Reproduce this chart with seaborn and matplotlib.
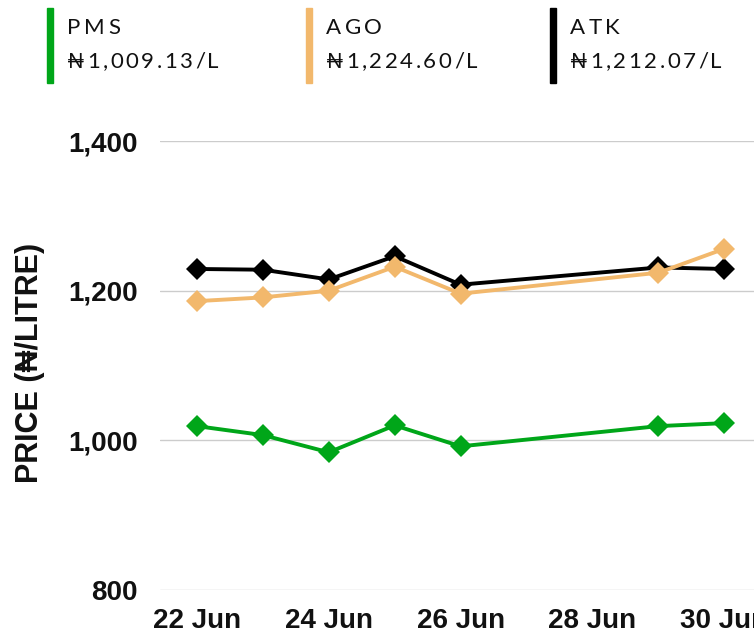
import numpy as np
import pandas as pd
import matplotlib
matplotlib.use("Agg")
import matplotlib.pyplot as plt
import seaborn as sns
from matplotlib.patches import Rectangle

sns.set_theme(style="white")
plt.rcParams['font.family'] = ['Liberation Sans', 'DejaVu Sans']

# data (June days)
days = [22, 23, 24, 25, 26, 29, 30]
pms = [1019, 1007, 984, 1020, 992, 1019, 1023]
atk = [1229, 1228, 1215, 1246, 1208, 1231, 1229]
ago = [1186, 1191, 1200, 1232, 1196, 1224, 1256]

products = ["PMS", "ATK", "AGO"]
colors = {"PMS": "#00a619", "ATK": "#000000", "AGO": "#f2b86c"}
latest = {"PMS": "₦1,009.13/L", "AGO": "₦1,224.60/L", "ATK": "₦1,212.07/L"}

tick_days = [22, 24, 26, 28, 30]
tick_labels = ["22 Jun", "24 Jun", "26 Jun", "28 Jun", "30 Jun"]
y_ticks = [800, 1000, 1200, 1400]

W, H = 754, 639

df = pd.DataFrame({
    "day": days * 3,
    "price": pms + atk + ago,
    "product": ["PMS"] * len(days) + ["ATK"] * len(days) + ["AGO"] * len(days),
})

fig = plt.figure(figsize=(W / 100, H / 100), dpi=100)
ax = fig.add_axes([160 / W, 49 / H, 1 - 160 / W, 449 / H])

sns.lineplot(data=df, x="day", y="price", hue="product", hue_order=products,
             palette=colors, marker="D", markersize=11, markeredgewidth=0,
             linewidth=2.8, legend=False, ax=ax, clip_on=False)

ax.set_xlim(21.44, 30.45)
ax.set_ylim(800, 1400)
ax.set_yticks(y_ticks)
ax.set_yticklabels([f"{v:,}" for v in y_ticks], fontsize=20, fontweight="bold", color="#111111")
ax.set_xticks(tick_days)
ax.set_xticklabels(tick_labels, fontsize=20, fontweight="bold", color="#111111")
ax.tick_params(axis="y", length=0, pad=16)
ax.tick_params(axis="x", length=0, pad=13)
ax.yaxis.grid(True, color="#cccccc", linewidth=1)
ax.set_axisbelow(True)
for s in ax.spines.values():
    s.set_visible(False)
ax.set_xlabel("")
ax.set_ylabel("")
fig.text(30 / W, 1 - 363 / H, "PRICE (₦/LITRE)", rotation=90, fontsize=22,
         fontweight="bold", ha="center", va="center", color="#111111",
         family=['Liberation Sans', 'DejaVu Sans'])

# legend strip at the top, letter-spaced labels
renderer = fig.canvas.get_renderer()


def spaced_text(x_px, y_px, s, gap_px, **kw):
    x = x_px
    for ch in s:
        t = fig.text(x / W, 1 - y_px / H, ch, ha="left", va="center", **kw)
        x += t.get_window_extent(renderer).width + gap_px


legend_x = {"PMS": 47, "AGO": 306, "ATK": 550}
for name in ["PMS", "AGO", "ATK"]:
    x0 = legend_x[name]
    fig.patches.append(Rectangle((x0 / W, 1 - 83 / H), 6 / W, 75 / H,
                                 transform=fig.transFigure, color=colors[name]))
    spaced_text(x0 + 20, 28, name, 3.5, fontsize=16, color="#111111",
                family=['Lato', 'DejaVu Sans'])
    spaced_text(x0 + 20, 62, latest[name], 2.5, fontsize=16, color="#111111",
                family=['Lato', 'DejaVu Sans'])

fig.savefig("out.png", dpi=100)
